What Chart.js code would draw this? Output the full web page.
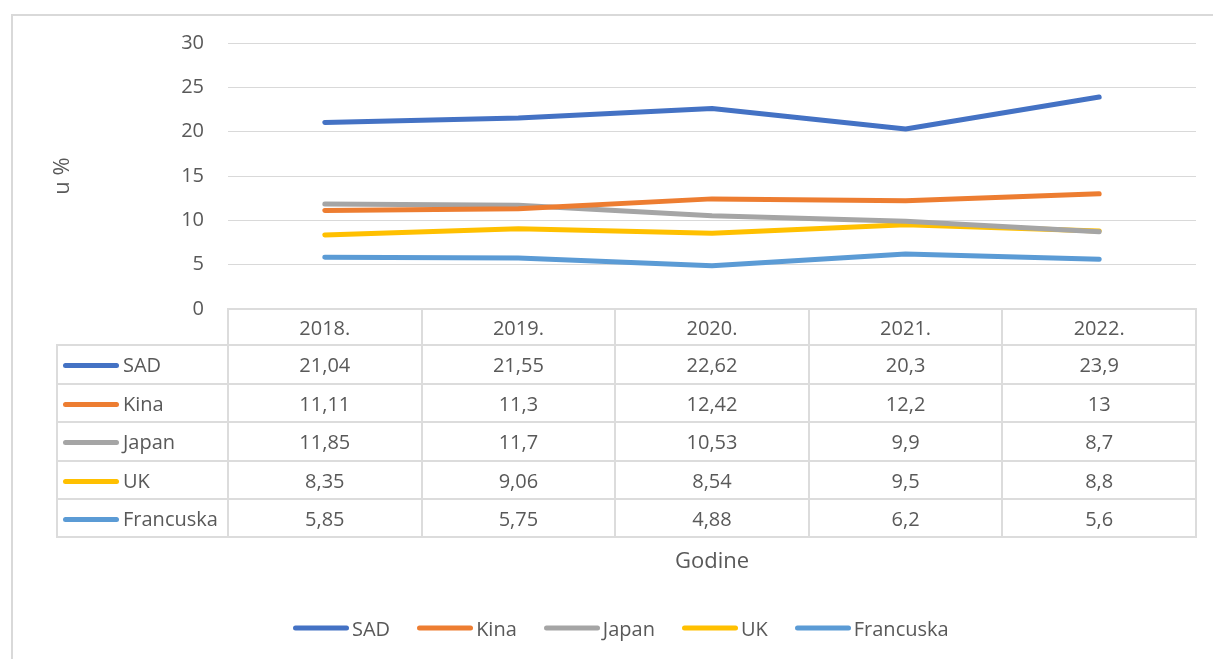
<!DOCTYPE html>
<html>
<head>
<meta charset="utf-8">
<script src="https://cdn.jsdelivr.net/npm/chart.js@4.4.1/dist/chart.umd.min.js"></script>
<style>
  body { margin: 0; background: #fff; font-family: "Open Sans", sans-serif; color: #595959; }
  #wrap { position: relative; width: 1213px; height: 659px; overflow: hidden; background: #fff; }
  #frame { position: absolute; left: 11px; top: 14px; width: 1300px; height: 700px; border: 2px solid #d9d9d9; }
  #chart { position: absolute; left: 0; top: 0; }
  #data-table { position: absolute; border-collapse: collapse; table-layout: fixed; font-size: 20px; color: #595959; }
  #data-table td { border: 2px solid #dcdcdc; text-align: center; padding: 0; white-space: nowrap; }
  #data-table td.name { text-align: left; padding-left: 5px; }
  #data-table td.corner { border-top: none; border-left: none; }
  .key { display: inline-block; width: 56px; height: 5px; border-radius: 3px; vertical-align: middle; margin-right: 4px; position: relative; top: -1px; }
  #axis-x-title { position: absolute; font-size: 22px; color: #595959; transform: translate(-50%, -50%); }
  #legend { position: absolute; left: 293px; top: 628px; transform: translateY(-50%); display: flex; font-size: 20px; color: #595959; }
  #legend .item { display: flex; align-items: center; margin-right: 27px; }
  #legend .key { margin-right: 3px; top: 0; }
</style>
</head>
<body>
<div id="wrap">
  <div id="frame"></div>
  <canvas id="chart" width="1213" height="659"></canvas>
  <table id="data-table"></table>
  <div id="axis-x-title">Godine</div>
  <div id="legend"></div>
</div>
<script>
const years = ["2018.", "2019.", "2020.", "2021.", "2022."];
const sadValues = [21.04, 21.55, 22.62, 20.3, 23.9];
const kinaValues = [11.11, 11.3, 12.42, 12.2, 13];
const japanValues = [11.85, 11.7, 10.53, 9.9, 8.7];
const ukValues = [8.35, 9.06, 8.54, 9.5, 8.8];
const francuskaValues = [5.85, 5.75, 4.88, 6.2, 5.6];
const seriesNames = ["SAD", "Kina", "Japan", "UK", "Francuska"];
const seriesColors = ["#4472C4", "#ED7D31", "#A5A5A5", "#FFC000", "#5B9BD5"];
const yTicks = [0, 5, 10, 15, 20, 25, 30];

const allValues = [sadValues, kinaValues, japanValues, ukValues, francuskaValues];
const textColor = "#595959";
const fontFamily = "'Open Sans', sans-serif";

function fmt(v) {
  return String(v).replace(".", ",");
}

const datasets = seriesNames.map((name, i) => ({
  label: name,
  data: allValues[i],
  borderColor: seriesColors[i],
  backgroundColor: seriesColors[i],
  borderWidth: 5,
  borderCapStyle: "round",
  borderJoinStyle: "round",
  pointRadius: 0,
  pointHoverRadius: 0,
  tension: 0,
  fill: false,
}));

const ctx = document.querySelector("#chart").getContext("2d");
const chart = new Chart(ctx, {
  type: "line",
  data: { labels: years, datasets: datasets },
  options: {
    responsive: false,
    animation: false,
    layout: { padding: { left: 0, right: 17, top: 43, bottom: 350 } },
    plugins: {
      legend: { display: false },
      tooltip: { enabled: false },
    },
    scales: {
      x: {
        display: false,
        offset: true,
      },
      y: {
        min: yTicks[0],
        max: yTicks[yTicks.length - 1],
        afterFit: (scale) => {
          scale.width = 228;
        },
        afterBuildTicks: (scale) => {
          scale.ticks = yTicks.map((v) => ({ value: v }));
        },
        border: { display: false },
        grid: { color: "#d9d9d9", lineWidth: 1, drawTicks: false },
        ticks: {
          padding: 24,
          color: textColor,
          font: { family: fontFamily, size: 20 },
        },
        title: {
          display: true,
          text: "u %",
          color: textColor,
          font: { family: fontFamily, size: 22 },
          padding: { top: 50, bottom: 0 },
        },
      },
    },
  },
});

// data table under the plot, lined up with the chart area
function buildTable() {
  const area = chart.chartArea;
  const colW = (area.right - area.left) / years.length;
  const nameW = area.left - 57;
  const table = document.querySelector("#data-table");
  let html = "<colgroup><col style='width:" + nameW + "px'>";
  years.forEach(() => {
    html += "<col style='width:" + colW + "px'>";
  });
  html += "</colgroup>";
  html += "<tr style='height:36px'><td class='corner'></td>";
  years.forEach((y) => {
    html += "<td>" + y + "</td>";
  });
  html += "</tr>";
  const rowH = [39, 38, 39, 38, 38];
  seriesNames.forEach((name, i) => {
    html += "<tr style='height:" + rowH[i] + "px'><td class='name'><span class='key' style='background:" +
      seriesColors[i] + "'></span>" + name + "</td>";
    allValues[i].forEach((v) => {
      html += "<td>" + fmt(v) + "</td>";
    });
    html += "</tr>";
  });
  table.innerHTML = html;
  table.style.left = 57 - 1 + "px";
  table.style.top = area.bottom - 1 + "px";
  table.style.width = nameW + colW * years.length + "px";

  const title = document.querySelector("#axis-x-title");
  title.style.left = (area.left + area.right) / 2 + "px";
  title.style.top = "559px";
}

function buildLegend() {
  const legend = document.querySelector("#legend");
  seriesNames.forEach((name, i) => {
    const item = document.createElement("div");
    item.classList.add("item");
    item.innerHTML = "<span class='key' style='background:" + seriesColors[i] + "'></span><span>" + name + "</span>";
    legend.appendChild(item);
  });
}

buildTable();
buildLegend();
</script>
</body>
</html>
